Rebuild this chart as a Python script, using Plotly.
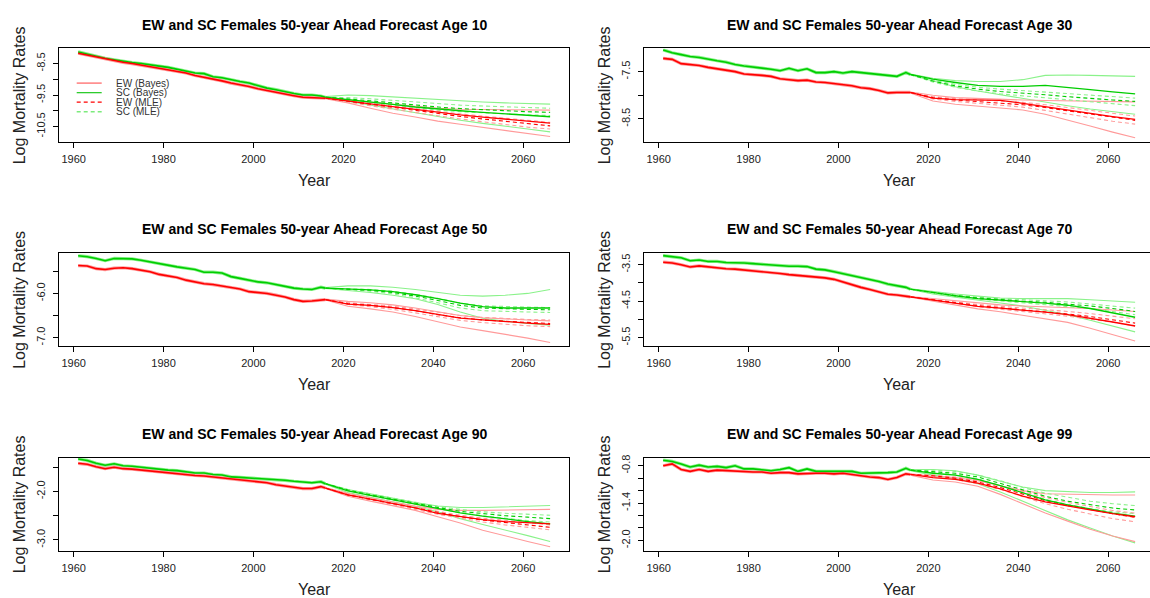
import plotly.graph_objects as go

W, H = 1150, 598
FONT = "Liberation Sans, Arial, sans-serif"

# Observed years (every second year plus the jump-off year) and forecast years
HIST_YEARS = [1961 + 2 * i for i in range(28)] + [2016]
FC_YEARS = [2016 + 5 * i for i in range(11)]

# ---------------- Age 10 ----------------
ew_hist_10 = [-8.17, -8.23, -8.30, -8.36, -8.40, -8.46, -8.50, -8.55, -8.60, -8.64, -8.70, -8.75, -8.80, -8.88,
              -8.93, -9.00, -9.05, -9.12, -9.17, -9.23, -9.30, -9.36, -9.42, -9.47, -9.52, -9.57, -9.58, -9.58, -9.60]
sc_hist_10 = [-8.13, -8.20, -8.28, -8.33, -8.38, -8.43, -8.47, -8.50, -8.55, -8.58, -8.62, -8.68, -8.72, -8.80,
              -8.82, -8.92, -8.95, -9.02, -9.07, -9.12, -9.20, -9.28, -9.33, -9.40, -9.45, -9.50, -9.50, -9.53, -9.57]
ew_bayes_10 = [-9.60, -9.68, -9.78, -9.87, -9.96, -10.06, -10.13, -10.20, -10.27, -10.33, -10.39]
ew_bayes_lo_10 = [-9.62, -9.75, -9.92, -10.08, -10.20, -10.33, -10.43, -10.53, -10.63, -10.73, -10.82]
ew_bayes_hi_10 = [-9.60, -9.65, -9.73, -9.80, -9.87, -9.92, -9.95, -9.96, -9.97, -9.98, -9.98]
sc_bayes_10 = [-9.57, -9.64, -9.72, -9.80, -9.88, -9.95, -10.00, -10.05, -10.10, -10.15, -10.19]
sc_bayes_lo_10 = [-9.58, -9.70, -9.83, -9.95, -10.08, -10.20, -10.30, -10.40, -10.50, -10.58, -10.67]
sc_bayes_hi_10 = [-9.55, -9.50, -9.52, -9.56, -9.62, -9.66, -9.70, -9.72, -9.75, -9.77, -9.79]
ew_mle_10 = [-9.60, -9.70, -9.80, -9.90, -10.00, -10.10, -10.18, -10.26, -10.34, -10.42, -10.48]
ew_mle_lo_10 = [-9.60, -9.73, -9.84, -9.95, -10.06, -10.17, -10.26, -10.35, -10.44, -10.52, -10.58]
ew_mle_hi_10 = [-9.60, -9.67, -9.76, -9.85, -9.94, -10.03, -10.10, -10.17, -10.24, -10.31, -10.37]
sc_mle_10 = [-9.57, -9.62, -9.68, -9.75, -9.82, -9.88, -9.93, -9.97, -10.00, -10.03, -10.05]
sc_mle_lo_10 = [-9.57, -9.65, -9.74, -9.83, -9.91, -9.98, -10.03, -10.07, -10.10, -10.13, -10.15]
sc_mle_hi_10 = [-9.57, -9.58, -9.62, -9.67, -9.73, -9.78, -9.82, -9.85, -9.88, -9.90, -9.92]

# ---------------- Age 30 ----------------
ew_hist_30 = [-7.22, -7.24, -7.33, -7.35, -7.37, -7.41, -7.44, -7.46, -7.50, -7.55, -7.56, -7.58, -7.60, -7.65,
              -7.67, -7.69, -7.68, -7.72, -7.73, -7.75, -7.77, -7.80, -7.84, -7.86, -7.90, -7.95, -7.94, -7.93, -7.94]
sc_hist_30 = [-7.04, -7.10, -7.14, -7.18, -7.20, -7.24, -7.27, -7.30, -7.35, -7.38, -7.40, -7.43, -7.45, -7.48,
              -7.43, -7.48, -7.44, -7.52, -7.52, -7.50, -7.53, -7.50, -7.52, -7.53, -7.55, -7.57, -7.60, -7.52, -7.56]
ew_bayes_30 = [-7.94, -8.06, -8.09, -8.10, -8.11, -8.17, -8.24, -8.32, -8.39, -8.45, -8.51]
ew_bayes_lo_30 = [-7.95, -8.12, -8.19, -8.23, -8.27, -8.31, -8.40, -8.52, -8.65, -8.78, -8.90]
ew_bayes_hi_30 = [-7.93, -8.00, -8.05, -8.07, -8.08, -8.10, -8.11, -8.12, -8.13, -8.13, -8.14]
sc_bayes_30 = [-7.56, -7.66, -7.73, -7.79, -7.81, -7.81, -7.79, -7.83, -7.88, -7.93, -7.97]
sc_bayes_lo_30 = [-7.57, -7.70, -7.82, -7.91, -7.99, -8.07, -8.15, -8.22, -8.29, -8.35, -8.40]
sc_bayes_hi_30 = [-7.55, -7.64, -7.69, -7.71, -7.71, -7.67, -7.58, -7.57, -7.58, -7.59, -7.60]
ew_mle_30 = [-7.94, -8.05, -8.10, -8.13, -8.16, -8.20, -8.26, -8.33, -8.40, -8.47, -8.53]
ew_mle_lo_30 = [-7.94, -8.08, -8.13, -8.17, -8.20, -8.25, -8.32, -8.40, -8.48, -8.55, -8.61]
ew_mle_hi_30 = [-7.94, -8.03, -8.07, -8.10, -8.12, -8.15, -8.20, -8.26, -8.32, -8.38, -8.44]
sc_mle_30 = [-7.56, -7.70, -7.80, -7.87, -7.92, -7.95, -7.99, -8.03, -8.07, -8.10, -8.13]
sc_mle_lo_30 = [-7.56, -7.72, -7.83, -7.91, -7.97, -8.01, -8.05, -8.10, -8.14, -8.18, -8.22]
sc_mle_hi_30 = [-7.56, -7.68, -7.77, -7.83, -7.87, -7.90, -7.93, -7.97, -8.00, -8.03, -8.06]

# ---------------- Age 50 ----------------
ew_hist_50 = [-5.37, -5.38, -5.44, -5.46, -5.43, -5.42, -5.44, -5.47, -5.51, -5.57, -5.60, -5.64, -5.70, -5.74,
              -5.78, -5.80, -5.83, -5.86, -5.90, -5.96, -5.98, -6.00, -6.04, -6.08, -6.14, -6.18, -6.17, -6.14, -6.14]
sc_hist_50 = [-5.15, -5.17, -5.21, -5.26, -5.21, -5.22, -5.22, -5.25, -5.29, -5.33, -5.36, -5.40, -5.43, -5.46,
              -5.52, -5.52, -5.54, -5.62, -5.66, -5.70, -5.74, -5.76, -5.80, -5.83, -5.88, -5.90, -5.91, -5.86, -5.88]
ew_bayes_50 = [-6.14, -6.24, -6.27, -6.32, -6.39, -6.48, -6.56, -6.60, -6.64, -6.67, -6.70]
ew_bayes_lo_50 = [-6.15, -6.29, -6.35, -6.42, -6.52, -6.64, -6.76, -6.84, -6.92, -7.01, -7.11]
ew_bayes_hi_50 = [-6.13, -6.18, -6.21, -6.26, -6.33, -6.42, -6.50, -6.55, -6.58, -6.60, -6.62]
sc_bayes_50 = [-5.88, -5.90, -5.92, -5.96, -6.03, -6.12, -6.22, -6.30, -6.33, -6.33, -6.33]
sc_bayes_lo_50 = [-5.89, -5.93, -5.98, -6.04, -6.12, -6.25, -6.42, -6.56, -6.63, -6.68, -6.72]
sc_bayes_hi_50 = [-5.87, -5.83, -5.83, -5.86, -5.91, -5.98, -6.04, -6.06, -6.04, -6.00, -5.91]
ew_mle_50 = [-6.14, -6.23, -6.27, -6.32, -6.39, -6.48, -6.55, -6.60, -6.63, -6.66, -6.68]
ew_mle_lo_50 = [-6.14, -6.25, -6.30, -6.36, -6.44, -6.53, -6.61, -6.66, -6.70, -6.73, -6.75]
ew_mle_hi_50 = [-6.14, -6.21, -6.25, -6.29, -6.35, -6.43, -6.50, -6.54, -6.57, -6.59, -6.60]
sc_mle_50 = [-5.88, -5.90, -5.93, -5.98, -6.06, -6.16, -6.27, -6.33, -6.35, -6.36, -6.37]
sc_mle_lo_50 = [-5.88, -5.91, -5.95, -6.01, -6.10, -6.21, -6.33, -6.39, -6.41, -6.42, -6.43]
sc_mle_hi_50 = [-5.88, -5.89, -5.91, -5.95, -6.02, -6.11, -6.22, -6.28, -6.30, -6.31, -6.32]

# ---------------- Age 70 ----------------
ew_hist_70 = [-3.43, -3.45, -3.50, -3.56, -3.53, -3.56, -3.58, -3.61, -3.62, -3.64, -3.66, -3.68, -3.71, -3.74,
              -3.77, -3.79, -3.80, -3.84, -3.86, -3.90, -3.98, -4.05, -4.12, -4.18, -4.25, -4.31, -4.33, -4.35, -4.38]
sc_hist_70 = [-3.25, -3.28, -3.31, -3.39, -3.37, -3.41, -3.41, -3.44, -3.44, -3.45, -3.47, -3.49, -3.50, -3.52,
              -3.54, -3.54, -3.55, -3.62, -3.64, -3.69, -3.74, -3.79, -3.84, -3.90, -3.96, -4.03, -4.08, -4.12, -4.17]
ew_bayes_70 = [-4.38, -4.46, -4.56, -4.64, -4.69, -4.74, -4.80, -4.87, -4.96, -5.07, -5.18]
ew_bayes_lo_70 = [-4.39, -4.50, -4.61, -4.71, -4.79, -4.88, -4.98, -5.08, -5.24, -5.42, -5.59]
ew_bayes_hi_70 = [-4.37, -4.43, -4.50, -4.56, -4.60, -4.63, -4.65, -4.67, -4.70, -4.74, -4.78]
sc_bayes_70 = [-4.17, -4.27, -4.35, -4.43, -4.48, -4.51, -4.55, -4.61, -4.70, -4.82, -4.94]
sc_bayes_lo_70 = [-4.18, -4.30, -4.39, -4.48, -4.55, -4.63, -4.74, -4.87, -5.02, -5.18, -5.34]
sc_bayes_hi_70 = [-4.16, -4.24, -4.30, -4.36, -4.41, -4.43, -4.43, -4.43, -4.46, -4.50, -4.53]
ew_mle_70 = [-4.38, -4.46, -4.55, -4.62, -4.68, -4.73, -4.79, -4.85, -4.92, -5.01, -5.10]
ew_mle_lo_70 = [-4.38, -4.47, -4.57, -4.65, -4.72, -4.78, -4.84, -4.91, -4.99, -5.08, -5.17]
ew_mle_hi_70 = [-4.38, -4.45, -4.53, -4.59, -4.64, -4.68, -4.73, -4.78, -4.84, -4.91, -4.98]
sc_mle_70 = [-4.17, -4.27, -4.35, -4.41, -4.46, -4.50, -4.53, -4.57, -4.63, -4.70, -4.78]
sc_mle_lo_70 = [-4.17, -4.28, -4.37, -4.44, -4.49, -4.54, -4.58, -4.63, -4.70, -4.78, -4.87]
sc_mle_hi_70 = [-4.17, -4.26, -4.33, -4.39, -4.43, -4.46, -4.49, -4.52, -4.57, -4.63, -4.69]

# ---------------- Age 90 ----------------
ew_hist_90 = [-1.42, -1.44, -1.49, -1.53, -1.50, -1.53, -1.54, -1.56, -1.58, -1.60, -1.61, -1.63, -1.65, -1.67,
              -1.68, -1.70, -1.72, -1.74, -1.76, -1.77, -1.79, -1.82, -1.86, -1.89, -1.92, -1.94, -1.94, -1.90, -1.93]
sc_hist_90 = [-1.33, -1.36, -1.42, -1.46, -1.43, -1.47, -1.48, -1.50, -1.53, -1.54, -1.56, -1.57, -1.60, -1.62,
              -1.62, -1.65, -1.66, -1.70, -1.71, -1.72, -1.73, -1.74, -1.76, -1.77, -1.79, -1.81, -1.82, -1.80, -1.84]
ew_bayes_90 = [-1.93, -2.07, -2.16, -2.25, -2.34, -2.45, -2.52, -2.58, -2.62, -2.65, -2.67]
ew_bayes_lo_90 = [-1.94, -2.10, -2.20, -2.29, -2.39, -2.52, -2.65, -2.80, -2.92, -3.03, -3.14]
ew_bayes_hi_90 = [-1.92, -2.04, -2.13, -2.22, -2.30, -2.37, -2.39, -2.39, -2.38, -2.37, -2.37]
sc_bayes_90 = [-1.84, -1.99, -2.08, -2.17, -2.26, -2.35, -2.44, -2.51, -2.57, -2.62, -2.67]
sc_bayes_lo_90 = [-1.85, -2.02, -2.12, -2.21, -2.31, -2.42, -2.56, -2.68, -2.79, -2.91, -3.03]
sc_bayes_hi_90 = [-1.83, -1.96, -2.05, -2.14, -2.23, -2.30, -2.33, -2.33, -2.32, -2.30, -2.29]
ew_mle_90 = [-1.93, -2.07, -2.16, -2.25, -2.34, -2.44, -2.52, -2.59, -2.64, -2.69, -2.74]
ew_mle_lo_90 = [-1.93, -2.08, -2.17, -2.27, -2.36, -2.47, -2.55, -2.63, -2.69, -2.74, -2.79]
ew_mle_hi_90 = [-1.93, -2.06, -2.15, -2.23, -2.32, -2.41, -2.49, -2.55, -2.60, -2.65, -2.69]
sc_mle_90 = [-1.84, -1.97, -2.07, -2.16, -2.25, -2.33, -2.41, -2.46, -2.50, -2.53, -2.56]
sc_mle_lo_90 = [-1.84, -1.98, -2.09, -2.18, -2.27, -2.36, -2.44, -2.50, -2.55, -2.60, -2.63]
sc_mle_hi_90 = [-1.84, -1.96, -2.05, -2.14, -2.23, -2.31, -2.37, -2.42, -2.45, -2.47, -2.49]

# ---------------- Age 99 ----------------
ew_hist_99 = [-0.80, -0.77, -0.86, -0.89, -0.86, -0.89, -0.87, -0.88, -0.88, -0.89, -0.90, -0.90, -0.92, -0.91,
              -0.91, -0.93, -0.92, -0.92, -0.92, -0.93, -0.92, -0.94, -0.97, -0.98, -0.99, -1.02, -0.99, -0.93, -0.94]
sc_hist_99 = [-0.71, -0.73, -0.77, -0.82, -0.79, -0.82, -0.81, -0.83, -0.80, -0.85, -0.85, -0.86, -0.88, -0.86,
              -0.83, -0.89, -0.85, -0.89, -0.89, -0.90, -0.90, -0.89, -0.92, -0.92, -0.92, -0.91, -0.90, -0.84, -0.87]
ew_bayes_99 = [-0.94, -0.99, -1.02, -1.08, -1.17, -1.29, -1.38, -1.45, -1.51, -1.57, -1.62]
ew_bayes_lo_99 = [-0.95, -1.03, -1.06, -1.13, -1.26, -1.41, -1.56, -1.69, -1.82, -1.93, -2.02]
ew_bayes_hi_99 = [-0.93, -0.97, -0.99, -1.04, -1.12, -1.20, -1.25, -1.26, -1.26, -1.27, -1.27]
sc_bayes_99 = [-0.87, -0.92, -0.95, -1.02, -1.12, -1.24, -1.35, -1.43, -1.50, -1.56, -1.61]
sc_bayes_lo_99 = [-0.88, -0.95, -1.00, -1.09, -1.22, -1.37, -1.53, -1.67, -1.80, -1.93, -2.04]
sc_bayes_hi_99 = [-0.86, -0.86, -0.88, -0.95, -1.05, -1.14, -1.20, -1.22, -1.23, -1.23, -1.22]
ew_mle_99 = [-0.94, -0.96, -1.00, -1.06, -1.15, -1.26, -1.36, -1.44, -1.51, -1.57, -1.63]
ew_mle_lo_99 = [-0.94, -0.97, -1.02, -1.09, -1.18, -1.30, -1.41, -1.50, -1.58, -1.65, -1.70]
ew_mle_hi_99 = [-0.94, -0.95, -0.98, -1.03, -1.12, -1.22, -1.31, -1.39, -1.46, -1.52, -1.56]
sc_mle_99 = [-0.87, -0.89, -0.92, -0.98, -1.08, -1.19, -1.29, -1.37, -1.43, -1.48, -1.51]
sc_mle_lo_99 = [-0.87, -0.90, -0.94, -1.01, -1.12, -1.23, -1.34, -1.42, -1.49, -1.54, -1.57]
sc_mle_hi_99 = [-0.87, -0.87, -0.89, -0.95, -1.04, -1.15, -1.24, -1.31, -1.37, -1.41, -1.44]

# Axis scales and tick marks for each age panel
AGES = [10, 30, 50, 70, 90, 99]
Y_RANGES = [(-10.98, -8.02), (-8.98, -7.01), (-7.19, -5.085), (-5.73, -3.176), (-3.22, -1.30), (-2.165, -0.667)]
Y_TICKS = [
    [-10.5, -10.0, -9.5, -9.0, -8.5],
    [-8.5, -8.0, -7.5],
    [-7.0, -6.5, -6.0, -5.5],
    [-5.5, -5.0, -4.5, -4.0, -3.5],
    [-3.0, -2.5, -2.0, -1.5],
    [-2.0, -1.8, -1.6, -1.4, -1.2, -1.0, -0.8],
]
Y_TICK_TEXT = [
    ["-10.5", "", "-9.5", "", "-8.5"],
    ["-8.5", "", "-7.5"],
    ["-7.0", "", "-6.0", ""],
    ["-5.5", "", "-4.5", "", "-3.5"],
    ["-3.0", "", "-2.0", ""],
    ["-2.0", "", "", "-1.4", "", "", "-0.8"],
]
X_TICKS = [1960, 1980, 2000, 2020, 2040, 2060]

DATA = {
    10: (ew_hist_10, sc_hist_10, ew_bayes_10, ew_bayes_lo_10, ew_bayes_hi_10, sc_bayes_10, sc_bayes_lo_10, sc_bayes_hi_10,
         ew_mle_10, ew_mle_lo_10, ew_mle_hi_10, sc_mle_10, sc_mle_lo_10, sc_mle_hi_10),
    30: (ew_hist_30, sc_hist_30, ew_bayes_30, ew_bayes_lo_30, ew_bayes_hi_30, sc_bayes_30, sc_bayes_lo_30, sc_bayes_hi_30,
         ew_mle_30, ew_mle_lo_30, ew_mle_hi_30, sc_mle_30, sc_mle_lo_30, sc_mle_hi_30),
    50: (ew_hist_50, sc_hist_50, ew_bayes_50, ew_bayes_lo_50, ew_bayes_hi_50, sc_bayes_50, sc_bayes_lo_50, sc_bayes_hi_50,
         ew_mle_50, ew_mle_lo_50, ew_mle_hi_50, sc_mle_50, sc_mle_lo_50, sc_mle_hi_50),
    70: (ew_hist_70, sc_hist_70, ew_bayes_70, ew_bayes_lo_70, ew_bayes_hi_70, sc_bayes_70, sc_bayes_lo_70, sc_bayes_hi_70,
         ew_mle_70, ew_mle_lo_70, ew_mle_hi_70, sc_mle_70, sc_mle_lo_70, sc_mle_hi_70),
    90: (ew_hist_90, sc_hist_90, ew_bayes_90, ew_bayes_lo_90, ew_bayes_hi_90, sc_bayes_90, sc_bayes_lo_90, sc_bayes_hi_90,
         ew_mle_90, ew_mle_lo_90, ew_mle_hi_90, sc_mle_90, sc_mle_lo_90, sc_mle_hi_90),
    99: (ew_hist_99, sc_hist_99, ew_bayes_99, ew_bayes_lo_99, ew_bayes_hi_99, sc_bayes_99, sc_bayes_lo_99, sc_bayes_hi_99,
         ew_mle_99, ew_mle_lo_99, ew_mle_hi_99, sc_mle_99, sc_mle_lo_99, sc_mle_hi_99),
}

RED = "#FF0000"
RED_LIGHT = "#FF9A9A"
GREEN = "#00CD00"
GREEN_LIGHT = "#8AF28A"
DASH = "4px,3px"

# Panel geometry (pixels)
COL_LEFT = [59.3, 644.3]
BOX_W = 509.7
ROW_TOP = [45.7, 251.2, 456.8]
BOX_H = 93.6
X_MIN = 1956.8
PX_PER_YEAR = BOX_W / 113.4


def px(x):
    return x / W


def py(y):
    return 1 - y / H


fig = go.Figure()
layout = {}
annotations = []
shapes = []

for i, age in enumerate(AGES):
    row, col = divmod(i, 2)
    left = COL_LEFT[col]
    right = min(left + BOX_W, W)
    top = ROW_TOP[row]
    bottom = top + BOX_H
    xa = "x" if i == 0 else f"x{i + 1}"
    ya = "y" if i == 0 else f"y{i + 1}"
    xkey = "xaxis" if i == 0 else f"xaxis{i + 1}"
    ykey = "yaxis" if i == 0 else f"yaxis{i + 1}"

    (ew_h, sc_h, ew_b, ew_bl, ew_bh, sc_b, sc_bl, sc_bh,
     ew_m, ew_ml, ew_mh, sc_m, sc_ml, sc_mh) = DATA[age]

    def line(x, y, color, width, dash=None):
        fig.add_trace(go.Scatter(
            x=x, y=y, mode="lines", xaxis=xa, yaxis=ya, showlegend=False, hoverinfo="skip",
            line=dict(color=color, width=width, dash=dash or "solid")))

    # fitted history: light halo with darker core
    line(HIST_YEARS, sc_h, GREEN_LIGHT, 3.2)
    line(HIST_YEARS, ew_h, RED_LIGHT, 3.2)
    line(HIST_YEARS, sc_h, GREEN, 1.6)
    line(HIST_YEARS, ew_h, RED, 1.6)

    # prediction intervals
    for y in (sc_bl, sc_bh):
        line(FC_YEARS, y, GREEN_LIGHT, 1.1)
    for y in (ew_bl, ew_bh):
        line(FC_YEARS, y, RED_LIGHT, 1.1)
    for y in (sc_ml, sc_mh):
        line(FC_YEARS, y, GREEN_LIGHT, 1.1, DASH)
    for y in (ew_ml, ew_mh):
        line(FC_YEARS, y, RED_LIGHT, 1.1, DASH)
    # central forecasts
    line(FC_YEARS, sc_m, GREEN, 1.1, DASH)
    line(FC_YEARS, ew_m, RED, 1.1, DASH)
    line(FC_YEARS, sc_b, GREEN, 1.3)
    line(FC_YEARS, ew_b, RED, 1.3)

    layout[xkey] = dict(
        domain=[px(left), px(right)], anchor=ya,
        range=[X_MIN, X_MIN + (right - left) / PX_PER_YEAR],
        tickmode="array", tickvals=X_TICKS, ticktext=[str(t) for t in X_TICKS],
        ticks="outside", ticklen=5, tickwidth=1, tickcolor="#000",
        showline=True, linecolor="#000", linewidth=1, mirror=True,
        showgrid=False, zeroline=False, ticklabelstandoff=2,
        tickfont=dict(family=FONT, size=11, color="#222"),
    )
    layout[ykey] = dict(
        domain=[py(bottom), py(top)], anchor=xa,
        range=list(Y_RANGES[i]),
        tickmode="array", tickvals=Y_TICKS[i], ticktext=Y_TICK_TEXT[i],
        ticks="outside", ticklen=5, tickwidth=1, tickcolor="#000", tickangle=-90,
        showline=True, linecolor="#000", linewidth=1, mirror=(col == 0),
        showgrid=False, zeroline=False, ticklabelstandoff=4,
        tickfont=dict(family=FONT, size=11, color="#222"),
    )

    cx = (left + left + BOX_W) / 2
    annotations.append(dict(
        text=f"<b>EW and SC Females 50-year Ahead Forecast Age {age}</b>",
        x=px(cx), y=py(top - 24), xref="paper", yref="paper",
        xanchor="center", yanchor="middle", showarrow=False,
        font=dict(family=FONT, size=14, color="#000")))
    annotations.append(dict(
        text="Year", x=px(cx), y=py(bottom + 39), xref="paper", yref="paper",
        xanchor="center", yanchor="middle", showarrow=False,
        font=dict(family=FONT, size=16, color="#222")))
    annotations.append(dict(
        text="Log Mortality Rates", x=px(left - 40), y=py((top + bottom) / 2),
        xref="paper", yref="paper", xanchor="center", yanchor="middle",
        textangle=-90, showarrow=False,
        font=dict(family=FONT, size=16, color="#222")))

# Legend drawn inside the first panel
LEGEND_ITEMS = [
    ("EW (Bayes)", "#FF6A6A", "solid"),
    ("SC (Bayes)", "#2ECC2E", "solid"),
    ("EW (MLE)", RED, "dash"),
    ("SC (MLE)", "#7CEB7C", "dash"),
]
for k, (label, color, dash) in enumerate(LEGEND_ITEMS):
    ypix = 80.5 + 9.6 * k
    shapes.append(dict(
        type="line", xref="paper", yref="paper",
        x0=px(76.7), x1=px(101.7), y0=py(ypix), y1=py(ypix),
        line=dict(color=color, width=1.3, dash=DASH if dash == "dash" else "solid")))
    annotations.append(dict(
        text=label, x=px(114), y=py(ypix), xref="paper", yref="paper",
        xanchor="left", yanchor="middle", showarrow=False,
        font=dict(family=FONT, size=10, color="#333")))

fig.update_layout(
    width=W, height=H, autosize=False,
    margin=dict(l=0, r=0, t=0, b=0),
    paper_bgcolor="white", plot_bgcolor="white",
    showlegend=False,
    annotations=annotations, shapes=shapes,
    **layout,
)

fig.write_html("out.html")
